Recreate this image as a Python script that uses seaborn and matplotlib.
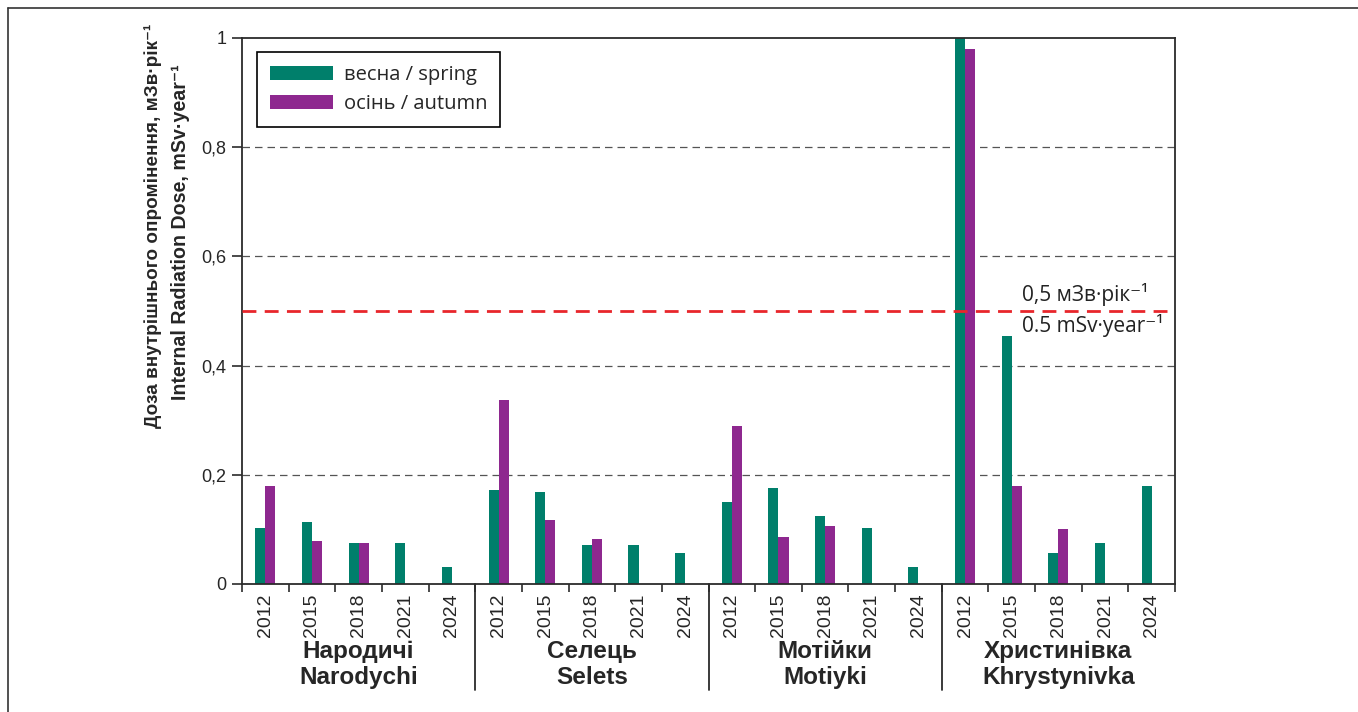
import pandas as pd
import numpy as np
import matplotlib
matplotlib.use("Agg")
import matplotlib.pyplot as plt
import matplotlib.transforms as mtransforms
import seaborn as sns

# Data
villages = ["Народичі\nNarodychi", "Селець\nSelets", "Мотійки\nMotiyki", "Христинівка\nKhrystynivka"]
years = ["2012", "2015", "2018", "2021", "2024"]
seasons = ["весна / spring", "осінь / autumn"]

spring = [
    [0.103, 0.114, 0.075, 0.075, 0.032],
    [0.172, 0.168, 0.071, 0.071, 0.057],
    [0.150, 0.175, 0.125, 0.103, 0.032],
    [1.000, 0.454, 0.057, 0.075, 0.179],
]
autumn = [
    [0.179, 0.078, 0.075, None, None],
    [0.337, 0.118, 0.082, None, None],
    [0.289, 0.086, 0.107, None, None],
    [0.980, 0.179, 0.100, None, None],
]
limit = 0.5

rows = []
for i, v in enumerate(villages):
    for j, y in enumerate(years):
        key = f"{i}-{y}"
        rows.append({"slot": key, "season": seasons[0], "dose": spring[i][j]})
        if autumn[i][j] is not None:
            rows.append({"slot": key, "season": seasons[1], "dose": autumn[i][j]})
df = pd.DataFrame(rows)
order = [f"{i}-{y}" for i in range(len(villages)) for y in years]

sns.set_style("white")
plt.rcParams["font.family"] = ["Liberation Sans", "DejaVu Sans"]
narrow = ["Liberation Sans Narrow", "DejaVu Sans Condensed", "Liberation Sans", "DejaVu Sans"]
soft = ["Open Sans", "DejaVu Sans"]

fig = plt.figure(figsize=(13.58, 7.12), dpi=100)
ax = fig.add_axes([242 / 1358, 128 / 712, 933 / 1358, 546 / 712])

sns.barplot(data=df, x="slot", y="dose", hue="season", order=order, hue_order=seasons,
            palette=["#007F6B", "#8E288F"], width=0.43, saturation=1, ax=ax,
            edgecolor="none", errorbar=None)

n = len(order)
ax.set_xlim(-0.5, n - 0.5)
ax.set_ylim(0, 1)

# grid lines
for g in [0.2, 0.4, 0.6, 0.8]:
    ax.axhline(g, color="#555555", lw=0.9, ls=(0, (6, 4)), zorder=0)
ax.axhline(limit, color="#E8262B", lw=2, ls=(0, (5, 3)), zorder=3)

# spines
for s in ax.spines.values():
    s.set_color("#2b2b2b")
    s.set_linewidth(1.3)

# y axis
ax.set_yticks([0, 0.2, 0.4, 0.6, 0.8, 1])
ax.set_yticklabels(["0", "0,2", "0,4", "0,6", "0,8", "1"], fontsize=13)
ax.tick_params(axis="y", direction="out", length=7, width=1.2, color="#2b2b2b", pad=4, left=True)
ax.set_ylabel("")

# x axis: years at centres, tick marks at boundaries
ax.set_xticks(np.arange(n))
ax.set_xticklabels(years * len(villages), rotation=90, fontsize=14)
ax.tick_params(axis="x", which="major", length=0, pad=7)
ax.set_xticks(np.arange(-0.5, n, 1), minor=True)
ax.tick_params(axis="x", which="minor", direction="out", length=6, width=1.2,
               color="#2b2b2b", bottom=True)
ax.set_xlabel("")

# village group labels and separators
trans = mtransforms.blended_transform_factory(ax.transData, ax.transAxes)
for i, v in enumerate(villages):
    ax.text(i * 5 + 2, -0.148, v, transform=trans, ha="center", va="center",
            fontsize=17.5, fontweight="bold", linespacing=1.15)
    if i > 0:
        ax.plot([i * 5 - 0.5, i * 5 - 0.5], [0, -0.194], transform=trans,
                color="#2b2b2b", lw=1.3, clip_on=False)

# limit annotation
trans2 = mtransforms.blended_transform_factory(ax.transAxes, ax.transData)
ax.text(0.836, limit + 0.01, "0,5 мЗв·рік⁻¹", transform=trans2, ha="left", va="bottom",
        fontsize=15, family=soft, color="#222222")
ax.text(0.836, limit - 0.006, "0.5 mSv·year⁻¹", transform=trans2, ha="left", va="top",
        fontsize=15, family=soft, color="#222222")

# legend
leg = ax.legend(loc="upper left", bbox_to_anchor=(15 / 933, 1 - 14 / 546), borderaxespad=0,
                frameon=True, fancybox=False, edgecolor="black", framealpha=1,
                prop={"family": soft, "size": 14.5},
                handlelength=3.1, handleheight=0.7, handletextpad=0.55, labelspacing=0.45,
                borderpad=0.65)
leg.get_frame().set_linewidth(1.2)

# y label (two lines), sized close to the reference lengths
ylab = [("Доза внутрішнього опромінення, мЗв·рік⁻¹", 153, 226, 400),
        ("Internal Radiation Dose, mSv·year⁻¹", 180, 232, 336)]
fig.canvas.draw()
renderer = fig.canvas.get_renderer()
for txt, px, py, target in ylab:
    t = fig.text(px / 1358, 1 - py / 712, txt, rotation=90, ha="center", va="center",
                 fontsize=13, fontweight="bold", family=narrow)
    h = t.get_window_extent(renderer).height
    t.set_fontsize(13 * target / h)

# outer frame (top and left only, rest cropped)
fig.add_artist(plt.Line2D([8 / 1358, 1], [1 - 8 / 712, 1 - 8 / 712], transform=fig.transFigure,
                          color="#333333", lw=1.2))
fig.add_artist(plt.Line2D([8 / 1358, 8 / 1358], [0, 1 - 8 / 712], transform=fig.transFigure,
                          color="#333333", lw=1.2))

fig.savefig("out.png", dpi=100)
